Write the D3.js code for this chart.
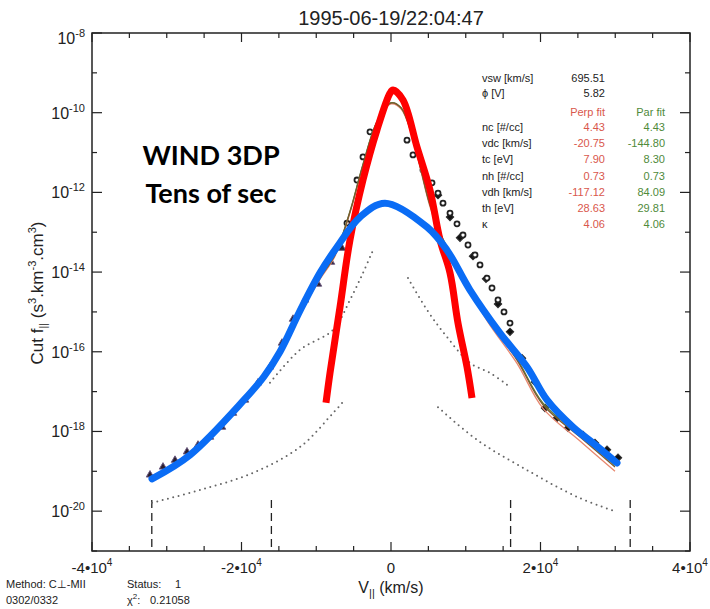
<!DOCTYPE html>
<html lang="en">
<head>
<meta charset="utf-8">
<title>WIND 3DP cut</title>
<script src="https://d3js.org/d3.v7.min.js"></script>
<style>
  body { margin: 0; background: #fff; }
  text { font-family: "Liberation Sans", Arial, sans-serif; fill: #222; }
</style>
</head>
<body>
<div id="chart"></div>
<script>
// ---- data (v in km/s, f as log10 exponent) ----
const titleText = "1995-06-19/22:04:47";
const xMajorTicks = [-40000, -20000, 0, 20000, 40000];
const xMajorLabels = [["-4•10", "4"], ["-2•10", "4"], ["0", ""], ["2•10", "4"], ["4•10", "4"]];
const yMajorExp = [-8, -10, -12, -14, -16, -18, -20];
const yMinorExp = [-9, -11, -13, -15, -17, -19, -21];

// left tail measurements (dark markers)
const tailLeftV = [-32241, -30502, -28897, -27291, -25820, -24214, -22609, -21137, -19532, -17793, -16187, -14582, -13110, -11505, -9766, -8027, -6555];
const tailLeftF = [-19.09, -18.89, -18.72, -18.51, -18.34, -18.14, -17.89, -17.54, -17.21, -16.78, -16.38, -15.78, -15.18, -14.70, -14.30, -13.75, -13.40];

// open markers around the core
const coreV = [-5886, -4549, -3746, -2809, 2140, 2943, 4281, 5485, 6288, 6957, 7893, 8830, 9632, 10301, 11238, 11906, 12843, 13512, 14314, 15117, 15920];
const coreF = [-12.77, -11.69, -11.11, -10.48, -10.69, -11.06, -11.44, -11.76, -12.02, -12.27, -12.52, -12.79, -13.07, -13.32, -13.57, -13.82, -14.15, -14.40, -14.70, -15.00, -15.28];

// filled markers on the right
const tailRightV = [6288, 7893, 9231, 10970, 12709, 14314, 15920, 17525, 19264, 20602, 22207, 23679, 25686, 27291, 28897, 30368];
const tailRightF = [-12.07, -12.62, -13.14, -13.60, -14.17, -14.80, -15.50, -16.16, -16.76, -17.41, -17.66, -17.91, -18.09, -18.29, -18.46, -18.66];

// thin model curves (three nearly overlapping fits)
const fitV = [-31973, -26890, -19666, -14849, -12174, -9498, -7491, -5485, -3746, -1873, 0, 1338, 2809, 4013, 5217, 6957, 9231, 12843, 16856, 20334, 25284, 29966];
const fitBrownF = [-19.17, -18.59, -17.21, -15.95, -15.00, -14.15, -13.57, -12.49, -11.31, -10.23, -9.76, -9.88, -10.56, -11.44, -12.32, -13.19, -13.95, -15.15, -16.21, -17.33, -18.14, -18.89];
const fitGreenF = [-19.15, -18.57, -17.19, -15.93, -14.98, -14.13, -13.55, -12.47, -11.29, -10.22, -9.75, -9.87, -10.54, -11.42, -12.30, -13.17, -13.92, -15.12, -16.18, -17.29, -18.10, -18.85];
const fitSalmonF = [-19.20, -18.62, -17.24, -15.98, -15.03, -14.18, -13.60, -12.51, -11.33, -10.25, -9.78, -9.90, -10.58, -11.47, -12.36, -13.24, -14.01, -15.22, -16.29, -17.42, -18.24, -19.00];

// thick red (core) curve
const redV = [-8696, -8161, -6823, -5485, -3746, -1873, -134, 268, 1605, 3478, 5217, 6555, 7893, 8963, 10167, 10836];
const redF = [-17.28, -16.53, -14.88, -13.19, -11.69, -10.43, -9.51, -9.43, -9.68, -10.86, -11.94, -13.19, -14.02, -15.28, -16.38, -17.16];

// thick blue (kappa) curve
const blueV = [-31973, -26890, -19666, -16990, -14849, -12174, -9498, -7224, -4147, -803, 4816, 7492, 10569, 14582, 18194, 20870, 24348, 27023, 30234];
const blueF = [-19.19, -18.59, -17.21, -16.62, -16.00, -14.97, -14.02, -13.37, -12.62, -12.27, -12.87, -13.45, -14.45, -15.53, -16.38, -17.21, -17.89, -18.29, -18.79];

// dotted component curves
const dotLeftLowV = [-31973, -25552, -18462, -12174, -7759, -6421];
const dotLeftLowF = [-19.79, -19.47, -19.04, -18.39, -17.54, -17.26];
const dotLeftHighV = [-16187, -12174, -7759, -5485, -3746, -2408];
const dotLeftHighF = [-16.78, -15.95, -15.45, -14.70, -14.02, -13.45];
const dotRightHighV = [2274, 4816, 7492, 10569, 13244, 15518];
const dotRightHighF = [-14.15, -14.95, -15.63, -16.28, -16.53, -16.83];
const dotRightLowV = [6288, 11505, 18194, 24883, 30234];
const dotRightLowF = [-17.39, -18.21, -18.97, -19.64, -20.02];

// energy cut-off markers
const cutoffV = [-32000, -16000, 16000, 32000];
const cutoffTopF = -19.72;

// parameter table
const topRowNames = ["vsw [km/s]", "\u03d5 [V]"];
const topRowValues = ["695.51", "5.82"];
const paramNames = ["nc [#/cc]", "vdc [km/s]", "tc [eV]", "nh [#/cc]", "vdh [km/s]", "th [eV]", "\u03ba"];
const perpFit = ["4.43", "-20.75", "7.90", "0.73", "-117.12", "28.63", "4.06"];
const parFit = ["4.43", "-144.80", "8.30", "0.73", "84.09", "29.81", "4.06"];

// ---- drawing ----
const W = 710, H = 609;
const svg = d3.select("#chart").append("svg").attr("width", W).attr("height", H);

const x = d3.scaleLinear().domain([-40000, 40000]).range([92, 690]);
const y = d3.scaleLog().domain([1e-21, 1e-8]).range([551, 33]);
const pt = (vs, fs) => vs.map((v, i) => [v, Math.pow(10, fs[i])]);

const line = d3.line().x(d => x(d[0])).y(d => y(d[1])).curve(d3.curveCatmullRom.alpha(0.5));

// ticks (inward on all four sides)
const decade = e => Math.pow(10, e);
const xMinor = d3.range(-40000, 40001, 5000).filter(v => v % 20000 !== 0);
const ax = svg.append("g").attr("stroke", "#222").attr("stroke-width", 1.2);
[[xMajorTicks, 9], [xMinor, 5]].forEach(([vals, len]) => {
  vals.forEach(v => {
    ax.append("line").attr("x1", x(v)).attr("x2", x(v)).attr("y1", 551).attr("y2", 551 - len);
    ax.append("line").attr("x1", x(v)).attr("x2", x(v)).attr("y1", 33).attr("y2", 33 + len);
  });
});
[[yMajorExp, 10], [yMinorExp, 5]].forEach(([vals, len]) => {
  vals.forEach(e => {
    ax.append("line").attr("x1", 92).attr("x2", 92 + len).attr("y1", y(decade(e))).attr("y2", y(decade(e)));
    ax.append("line").attr("x1", 690).attr("x2", 690 - len).attr("y1", y(decade(e))).attr("y2", y(decade(e)));
  });
});
svg.append("rect").attr("x", 92).attr("y", 33).attr("width", 598).attr("height", 518)
  .attr("fill", "none").attr("stroke", "#222").attr("stroke-width", 1.5);

// y tick labels (top one sits a little lower, as in the original)
yMajorExp.forEach(e => {
  const t = svg.append("text").attr("x", 85).attr("y", y(decade(e)) + (e === -8 ? 11 : 6))
    .attr("text-anchor", "end").attr("font-size", 16);
  t.append("tspan").text("10");
  t.append("tspan").attr("dy", -7).attr("font-size", 11).text(String(e));
});

// x tick labels
xMajorTicks.forEach((v, i) => {
  const t = svg.append("text").attr("x", x(v)).attr("y", 573)
    .attr("text-anchor", "middle").attr("font-size", 15);
  t.append("tspan").text(xMajorLabels[i][0]);
  if (xMajorLabels[i][1]) t.append("tspan").attr("dy", -7).attr("font-size", 10).text(xMajorLabels[i][1]);
});

// title and axis titles
svg.append("text").attr("x", 391).attr("y", 25).attr("text-anchor", "middle")
  .attr("font-size", 20).text(titleText);

const xl = svg.append("text").attr("x", 391).attr("y", 593).attr("text-anchor", "middle").attr("font-size", 16);
xl.append("tspan").text("V");
xl.append("tspan").attr("dy", 4).attr("font-size", 11).text("||");
xl.append("tspan").attr("dy", -4).text(" (km/s)");

const yl = svg.append("text").attr("transform", "translate(43,293) rotate(-90)")
  .attr("text-anchor", "middle").attr("font-size", 17);
yl.append("tspan").text("Cut f");
yl.append("tspan").attr("dy", 4).attr("font-size", 11).text("||");
yl.append("tspan").attr("dy", -4).text(" (s");
yl.append("tspan").attr("dy", -7).attr("font-size", 11).text("3");
yl.append("tspan").attr("dy", 7).text(".km");
yl.append("tspan").attr("dy", -7).attr("font-size", 11).text("-3");
yl.append("tspan").attr("dy", 7).text(".cm");
yl.append("tspan").attr("dy", -7).attr("font-size", 11).text("3");
yl.append("tspan").attr("dy", 7).text(")");

// footer notes
const foot = svg.append("g").attr("font-size", 11);
foot.append("text").attr("x", 6).attr("y", 588).text("Method: C\u22a5-MII");
foot.append("text").attr("x", 6).attr("y", 604).text("0302/0332");
foot.append("text").attr("x", 127).attr("y", 588).text("Status:");
foot.append("text").attr("x", 175).attr("y", 588).text("1");
const chi = foot.append("text").attr("x", 127).attr("y", 604);
chi.append("tspan").text("\u03c7");
chi.append("tspan").attr("dy", -5).attr("font-size", 8).text("2");
chi.append("tspan").attr("dy", 5).text(":");
foot.append("text").attr("x", 150).attr("y", 604).text("0.21058");

// dashed cut-off lines
cutoffV.forEach(v => {
  svg.append("line").attr("x1", x(v)).attr("x2", x(v))
    .attr("y1", y(decade(cutoffTopF))).attr("y2", y(1e-21))
    .attr("stroke", "#222").attr("stroke-width", 1.3).attr("stroke-dasharray", "8,5");
});

// dotted component curves
[[dotLeftLowV, dotLeftLowF], [dotLeftHighV, dotLeftHighF], [dotRightHighV, dotRightHighF], [dotRightLowV, dotRightLowF]]
  .forEach(([vs, fs]) => {
    svg.append("path").attr("d", line(pt(vs, fs))).attr("fill", "none")
      .attr("stroke", "#666").attr("stroke-width", 2).attr("stroke-linecap", "round")
      .attr("stroke-dasharray", "0,5.5");
  });

// measured points
svg.append("g").selectAll("path").data(pt(tailLeftV, tailLeftF)).join("path")
  .attr("transform", d => `translate(${x(d[0])},${y(d[1])})`)
  .attr("d", d3.symbol().type(d3.symbolTriangle).size(24)())
  .attr("fill", "#2b2030").attr("stroke", "#6b5a80").attr("stroke-width", 1);
svg.append("g").selectAll("path").data(pt(tailRightV, tailRightF)).join("path")
  .attr("transform", d => `translate(${x(d[0])},${y(d[1])}) rotate(45)`)
  .attr("d", d3.symbol().type(d3.symbolSquare).size(28)())
  .attr("fill", "#111").attr("stroke", "#333").attr("stroke-width", 1);
svg.append("g").selectAll("path").data(pt(coreV, coreF)).join("path")
  .attr("transform", d => `translate(${x(d[0])},${y(d[1])})`)
  .attr("d", d3.symbol().type(d3.symbolCircle).size(20)())
  .attr("fill", "#fff").attr("stroke", "#222").attr("stroke-width", 1.8);

// thin fits
[[fitSalmonF, "#e8876e"], [fitGreenF, "#5f7e3c"], [fitBrownF, "#7a5a2e"]].forEach(([fs, c]) => {
  svg.append("path").attr("d", line(pt(fitV, fs))).attr("fill", "none")
    .attr("stroke", c).attr("stroke-width", 1.3);
});

// thick red and blue curves
svg.append("path").attr("d", line(pt(redV, redF))).attr("fill", "none")
  .attr("stroke", "#ff0000").attr("stroke-width", 7).attr("stroke-linejoin", "round");
svg.append("path").attr("d", line(pt(blueV, blueF))).attr("fill", "none")
  .attr("stroke", "#0a6cf5").attr("stroke-width", 7).attr("stroke-linecap", "round");

// parameter table
const tb = svg.append("g").attr("font-size", 11);
topRowNames.forEach((n, i) => {
  tb.append("text").attr("x", 482).attr("y", 82 + i * 15).text(n);
  tb.append("text").attr("x", 605).attr("y", 82 + i * 15).attr("text-anchor", "end").text(topRowValues[i]);
});
tb.append("text").attr("x", 605).attr("y", 116).attr("text-anchor", "end").style("fill", "#d9574c").text("Perp fit");
tb.append("text").attr("x", 665).attr("y", 116).attr("text-anchor", "end").style("fill", "#4f8a3a").text("Par fit");
paramNames.forEach((n, i) => {
  const yy = 131 + i * 16.2;
  tb.append("text").attr("x", 482).attr("y", yy).text(n);
  tb.append("text").attr("x", 605).attr("y", yy).attr("text-anchor", "end").style("fill", "#d9574c").text(perpFit[i]);
  tb.append("text").attr("x", 665).attr("y", yy).attr("text-anchor", "end").style("fill", "#4f8a3a").text(parFit[i]);
});

// annotation
const ann = svg.append("g").attr("text-anchor", "middle").attr("font-size", 27).attr("font-weight", 700);
ann.append("text").attr("x", 211).attr("y", 165).style("font-family", "Lato, 'Open Sans', sans-serif").style("fill", "#000").text("WIND 3DP");
ann.append("text").attr("x", 211).attr("y", 203).style("font-family", "Lato, 'Open Sans', sans-serif").style("fill", "#000").text("Tens of sec");
</script>
</body>
</html>
